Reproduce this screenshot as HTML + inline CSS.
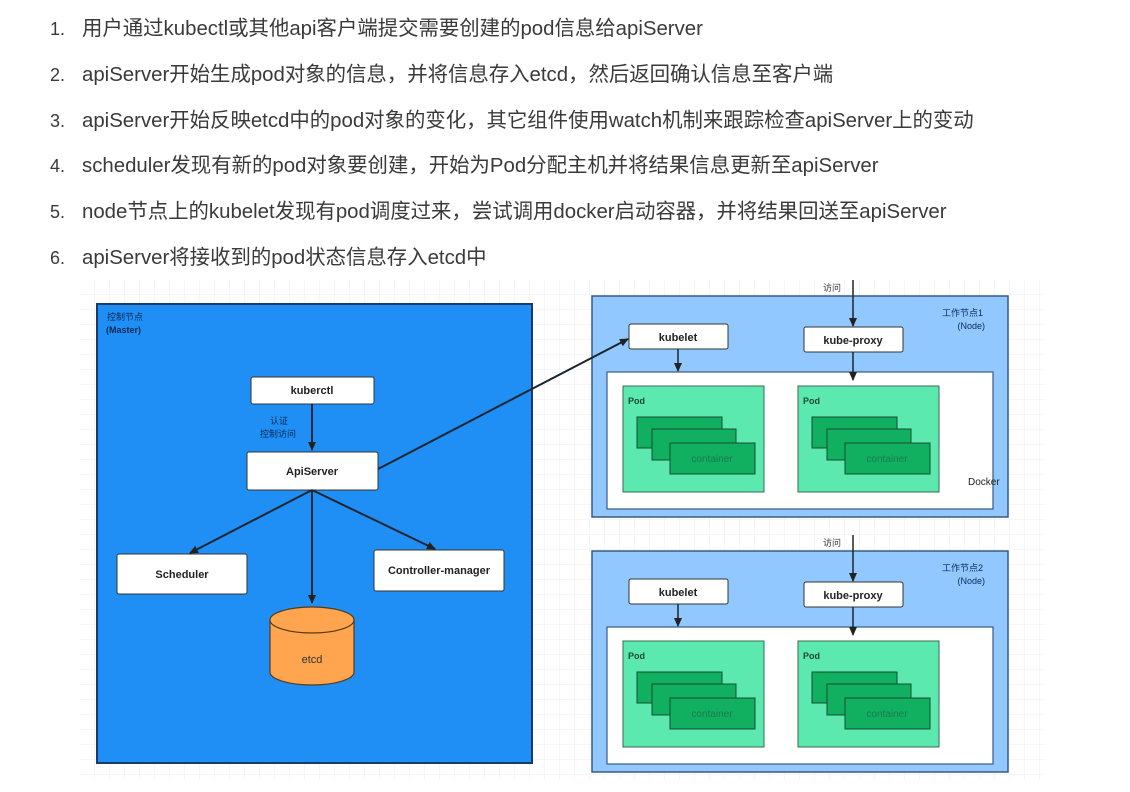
<!DOCTYPE html>
<html><head><meta charset="utf-8">
<style>
html,body{margin:0;padding:0;background:#fff;width:1130px;height:792px;overflow:hidden;position:relative}
.l{position:absolute;left:50px;font-family:"Liberation Sans","Noto Sans CJK SC",sans-serif;font-size:20.4px;color:#3a3a3a;white-space:nowrap}
.l span{display:inline-block;width:32px;font-size:18px}
svg{position:absolute;left:0;top:0}
</style></head><body>
<div class="l" style="top:11px"><span>1.</span>用户通过kubectl或其他api客户端提交需要创建的pod信息给apiServer</div>
<div class="l" style="top:57px"><span>2.</span>apiServer开始生成pod对象的信息，并将信息存入etcd，然后返回确认信息至客户端</div>
<div class="l" style="top:103px"><span>3.</span>apiServer开始反映etcd中的pod对象的变化，其它组件使用watch机制来跟踪检查apiServer上的变动</div>
<div class="l" style="top:148px"><span>4.</span>scheduler发现有新的pod对象要创建，开始为Pod分配主机并将结果信息更新至apiServer</div>
<div class="l" style="top:194px"><span>5.</span>node节点上的kubelet发现有pod调度过来，尝试调用docker启动容器，并将结果回送至apiServer</div>
<div class="l" style="top:240px"><span>6.</span>apiServer将接收到的pod状态信息存入etcd中</div>
<svg width="1130" height="792" font-family="Liberation Sans, Noto Sans CJK SC, sans-serif">
<defs>
<pattern id="g" width="15" height="15" patternUnits="userSpaceOnUse" x="80" y="280"><path d="M15 0V15H0" fill="none" stroke="#eee" stroke-width="1"/></pattern>
<marker id="a" markerWidth="10" markerHeight="10" refX="8" refY="5" orient="auto" markerUnits="userSpaceOnUse"><path d="M0,1 L9,5 L0,9 z" fill="#222"/></marker>
</defs>
<rect x="80" y="280" width="965" height="500" fill="url(#g)"/>
<rect x="97" y="304" width="435" height="459" fill="#1f8ff5" stroke="#1a3a6a" stroke-width="2"/>
<text x="107" y="320" font-size="9" fill="#0d2a55">控制节点</text>
<text x="106" y="333" font-size="9" fill="#0d2a55" font-weight="bold">(Master)</text>
<g stroke="#333" stroke-width="1" fill="#fff">
<rect x="251" y="377" width="123" height="27" rx="2"/>
<rect x="247" y="452" width="131" height="38" rx="2"/>
<rect x="117" y="554" width="130" height="40" rx="2"/>
<rect x="374" y="550" width="130" height="41" rx="2"/>
</g>
<g font-size="11" font-weight="bold" fill="#222" text-anchor="middle">
<text x="312" y="394">kuberctl</text>
<text x="312" y="475">ApiServer</text>
<text x="182" y="578">Scheduler</text>
<text x="439" y="574">Controller-manager</text>
</g>
<text x="270" y="424" font-size="9" fill="#0d2a55">认证</text>
<text x="260" y="437" font-size="9" fill="#0d2a55">控制访问</text>
<g stroke="#1a2530" stroke-width="2" fill="none">
<line x1="312" y1="404" x2="312" y2="450" marker-end="url(#a)"/>
<line x1="312" y1="490" x2="190" y2="553" marker-end="url(#a)"/>
<line x1="312" y1="490" x2="312" y2="603" marker-end="url(#a)"/>
<line x1="312" y1="490" x2="435" y2="549" marker-end="url(#a)"/>
</g>
<path d="M270 620 V672 A42 13 0 0 0 354 672 V620" fill="#ffa550" stroke="#5a3a10" stroke-width="1.2"/>
<ellipse cx="312" cy="620" rx="42" ry="13" fill="#ffa550" stroke="#5a3a10" stroke-width="1.2"/>
<text x="312" y="663" font-size="11" fill="#333" text-anchor="middle">etcd</text>
<g id="n1">
<rect x="592" y="296" width="416" height="221" fill="#90c8ff" stroke="#3a5a80" stroke-width="1.5"/>
<rect x="629" y="324" width="99" height="25" rx="2" fill="#fff" stroke="#333"/>
<rect x="804" y="327" width="99" height="25" rx="2" fill="#fff" stroke="#333"/>
<text x="678" y="341" font-size="11" font-weight="bold" fill="#222" text-anchor="middle">kubelet</text>
<text x="853" y="344" font-size="11" font-weight="bold" fill="#222" text-anchor="middle">kube-proxy</text>
<rect x="607" y="372" width="386" height="137" fill="#fff" stroke="#3a5a80" stroke-width="1.2"/>
<g stroke="#1a2530" stroke-width="1.5" fill="none">
<line x1="678" y1="349" x2="678" y2="371" marker-end="url(#a)"/>
<line x1="853" y1="352" x2="853" y2="380" marker-end="url(#a)"/>
<line x1="853" y1="280" x2="853" y2="326" marker-end="url(#a)"/>
</g>
<text x="823" y="291" font-size="9" fill="#333">访问</text>
<g id="p1">
<rect x="623" y="386" width="141" height="106" fill="#5ce9b0" stroke="#3a6a50"/>
<text x="628" y="404" font-size="9" font-weight="bold" fill="#1a4a30">Pod</text>
<rect x="637" y="417" width="85" height="31" fill="#10b060" stroke="#1a4a30"/>
<rect x="652" y="429" width="84" height="31" fill="#10b060" stroke="#1a4a30"/>
<rect x="670" y="443" width="85" height="31" fill="#10b060" stroke="#1a4a30"/>
<text x="712" y="462" font-size="10" fill="#1a7a50" text-anchor="middle">container</text>
</g>
<use href="#p1" x="175" y="0"/>
</g>
<text x="968" y="485" font-size="10" fill="#222">Docker</text>
<text x="983" y="316" font-size="9" fill="#0d2a55" text-anchor="end">工作节点1</text>
<text x="985" y="329" font-size="9" fill="#0d2a55" text-anchor="end">(Node)</text>
<use href="#n1" x="0" y="255"/>
<text x="983" y="571" font-size="9" fill="#0d2a55" text-anchor="end">工作节点2</text>
<text x="985" y="584" font-size="9" fill="#0d2a55" text-anchor="end">(Node)</text>
<line x1="378" y1="469" x2="628" y2="339" stroke="#1a2530" stroke-width="2" marker-end="url(#a)"/>
</svg>
</body></html>
